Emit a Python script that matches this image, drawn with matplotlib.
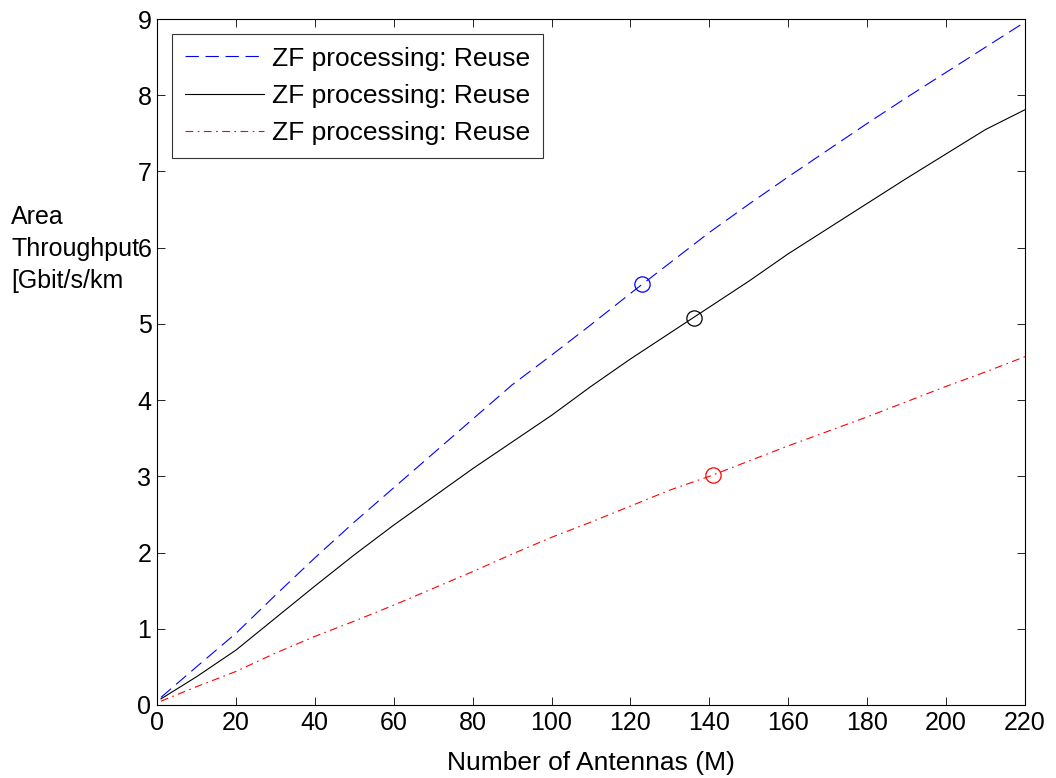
import matplotlib
matplotlib.use('Agg')
import matplotlib.pyplot as plt

plt.rcParams['font.family'] = ['Liberation Sans', 'DejaVu Sans']

# number of antennas
M = [1, 10, 20, 30, 40, 50, 60, 70, 80, 90, 100, 110, 120, 130, 140,
     150, 160, 170, 180, 190, 200, 210, 220]
# area throughput per scheme
blue = [0.10, 0.50, 0.94, 1.44, 1.93, 2.40, 2.85, 3.30, 3.75, 4.20, 4.59,
        4.99, 5.40, 5.80, 6.20, 6.57, 6.93, 7.28, 7.63, 7.97, 8.30, 8.63, 8.96]
black = [0.08, 0.37, 0.72, 1.14, 1.56, 1.97, 2.36, 2.73, 3.10, 3.45, 3.80,
         4.18, 4.54, 4.88, 5.22, 5.56, 5.92, 6.25, 6.58, 6.91, 7.23, 7.55, 7.81]
red = [0.05, 0.24, 0.44, 0.68, 0.90, 1.10, 1.31, 1.53, 1.75, 1.98, 2.20,
       2.40, 2.61, 2.82, 3.00, 3.20, 3.40, 3.59, 3.78, 3.98, 4.18, 4.37, 4.57]
# marked points
mark_x = [123, 136, 141]
mark_y = [5.52, 5.08, 3.02]
labels = ['ZF processing: Reuse', 'ZF processing: Reuse', 'ZF processing: Reuse']

fig = plt.figure(figsize=(10.56, 7.78), dpi=100)
ax = fig.add_axes([157/1056, 1 - 705/778, (1025-157)/1056, (705-19)/778])

ax.plot(M, blue, color='#0000ff', ls=(0, (12, 6)), lw=0.8, label=labels[0])
ax.plot(M, black, color='black', ls='-', lw=0.8, label=labels[1])
ax.plot(M, red, color='#ff0000', ls=(0, (7, 4, 1.5, 4)), lw=0.8, label=labels[2])
for x, y, c in zip(mark_x, mark_y, ['#0000ff', 'black', '#ff0000']):
    ax.plot([x], [y], 'o', mfc='none', mec=c, ms=11, mew=0.9)

ax.set_xlim(0, 220)
ax.set_ylim(0, 9)
ax.set_xticks(range(0, 221, 20))
ax.set_yticks(range(0, 10))
ax.tick_params(direction='in', top=True, right=True, labelsize=18, length=6,
               width=0.6, pad=4)
for s in ax.spines.values():
    s.set_linewidth(0.8)

ax.set_xlabel('Number of Antennas (M)', fontsize=19, labelpad=12)
fig.text(11/1056, 1 - 249/778, 'Area\nThroughput\n[Gbit/s/km', fontsize=18,
         ha='left', va='center', linespacing=1.4)

leg = ax.legend(loc='upper left', fontsize=19, frameon=True, fancybox=False,
                edgecolor='black', handlelength=3.0, borderaxespad=0.55,
                labelspacing=0.5, handletextpad=0.3, borderpad=0.5)
leg.get_frame().set_linewidth(0.8)

fig.savefig('out.png', dpi=100)
